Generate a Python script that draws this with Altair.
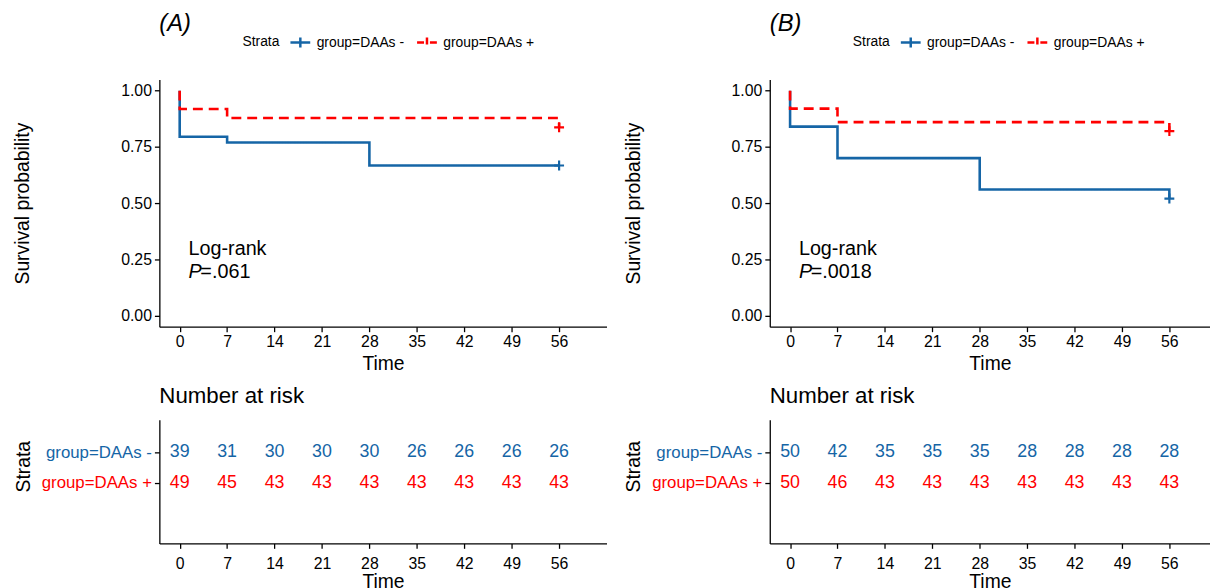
import altair as alt
import pandas as pd

FONT = "Liberation Sans"

groups = ["group=DAAs -", "group=DAAs +"]
colors = ["#1565A6", "#FF0000"]
tick_times = [0, 7, 14, 21, 28, 35, 42, 49, 56]

# Panel A: Kaplan-Meier steps (time, survival)
a_neg_t = [0, 0, 7, 28, 56]
a_neg_s = [1.0, 0.795, 0.769, 0.667, 0.667]
a_pos_t = [0, 0, 7, 56, 56]
a_pos_s = [1.0, 0.918, 0.878, 0.878, 0.837]
a_cens_t = [56, 56]
a_cens_s = [0.667, 0.837]
a_risk_neg = [39, 31, 30, 30, 30, 26, 26, 26, 26]
a_risk_pos = [49, 45, 43, 43, 43, 43, 43, 43, 43]
a_pval = "=.061"

# Panel B
b_neg_t = [0, 0, 7, 28, 56, 56]
b_neg_s = [1.0, 0.84, 0.70, 0.56, 0.56, 0.52]
b_pos_t = [0, 0, 7, 56, 56]
b_pos_s = [1.0, 0.92, 0.86, 0.86, 0.82]
b_cens_t = [56, 56]
b_cens_s = [0.52, 0.82]
b_risk_neg = [50, 42, 35, 35, 35, 28, 28, 28, 28]
b_risk_pos = [50, 46, 43, 43, 43, 43, 43, 43, 43]
b_pval = "=.0018"

CROSS = "M-1,0H1M0,-0.5V0.5"
PLUS = "M-1,0H1M0,-1V1"

color_scale = alt.Scale(domain=groups, range=colors)
dash_scale = alt.Scale(domain=groups, range=[[1, 0], [10, 6]])

axis_style = dict(
    domainColor="black", domainWidth=1.3, tickColor="black", tickWidth=1.3,
    tickSize=5, labelColor="black", labelFont=FONT, labelFontSize=16,
    titleFont=FONT, titleFontSize=19.5, titleColor="black",
    titleFontWeight="normal", grid=False,
)


def km_panel(label, neg_t, neg_s, pos_t, pos_s, cens_t, cens_s, pval, width, xmax):
    rows = []
    for i, (t, s) in enumerate(zip(neg_t, neg_s)):
        rows.append({"time": t, "surv": s, "group": groups[0], "i": i})
    for i, (t, s) in enumerate(zip(pos_t, pos_s)):
        rows.append({"time": t, "surv": s, "group": groups[1], "i": i})
    curves = pd.DataFrame(rows)
    cens = pd.DataFrame({"time": cens_t, "surv": cens_s, "group": groups})

    xs = alt.Scale(domain=[-3, xmax], nice=False, zero=False)
    ys = alt.Scale(domain=[-0.05, 1.05], nice=False, zero=False)
    xax = alt.Axis(values=tick_times, title="Time", labelPadding=2, titlePadding=5, **axis_style)
    yax = alt.Axis(values=[0, 0.25, 0.5, 0.75, 1.0], format=".2f", title="Survival probability",
                   labelPadding=3, titlePadding=89, **axis_style)
    legend = alt.Legend(
        orient="none", legendX=84, legendY=-49, direction="horizontal",
        title="Strata", titleOrient="left", titleFont=FONT, titleFontSize=14,
        titleFontWeight="normal", titleColor="black", titlePadding=9,
        labelFont=FONT, labelFontSize=14, labelColor="black", labelOffset=5,
        symbolType=CROSS, symbolSize=400, symbolStrokeWidth=2.5, columnPadding=7,
        symbolDashOffset=3,
    )

    def line_layer(g):
        return alt.Chart(curves).transform_filter(alt.datum.group == g).mark_line(
            interpolate="step-after", strokeWidth=2.6
        ).encode(
            x=alt.X("time:Q", scale=xs, axis=xax),
            y=alt.Y("surv:Q", scale=ys, axis=yax),
            color=alt.Color("group:N", scale=color_scale, legend=legend),
            strokeDash=alt.StrokeDash("group:N", scale=dash_scale, legend=legend),
            order=alt.Order("i:Q"),
        )

    points = alt.Chart(cens).mark_point(
        shape=PLUS, filled=False, size=100, strokeWidth=2.2, opacity=1
    ).encode(
        x=alt.X("time:Q", scale=xs),
        y=alt.Y("surv:Q", scale=ys),
        color=alt.Color("group:N", scale=color_scale, legend=legend),
    )

    txt_style = dict(font=FONT, fontSize=20, align="left", baseline="middle", color="black")
    logrank = alt.Chart().mark_text(text="Log-rank", **txt_style).encode(
        x=alt.datum(1.3), y=alt.datum(0.295))
    ptxt = alt.Chart().mark_text(text="P", fontStyle="italic", **txt_style).encode(
        x=alt.datum(1.3), y=alt.datum(0.195))
    pv = alt.Chart().mark_text(text=pval, dx=12, **txt_style).encode(
        x=alt.datum(1.3), y=alt.datum(0.195))

    return alt.layer(line_layer(groups[0]), line_layer(groups[1]), points, logrank, ptxt, pv).properties(
        width=width, height=250,
        title=alt.TitleParams(label, anchor="start", frame="group", font=FONT, fontSize=24,
                              fontStyle="italic", fontWeight="normal", color="black", offset=-5),
    )


def risk_panel(neg, pos, width, xmax):
    rows = []
    for t, n in zip(tick_times, neg):
        rows.append({"time": t, "row": 1, "n": n, "group": groups[0]})
    for t, n in zip(tick_times, pos):
        rows.append({"time": t, "row": 2, "n": n, "group": groups[1]})
    df = pd.DataFrame(rows)
    xs = alt.Scale(domain=[-3, xmax], nice=False, zero=False)
    ys = alt.Scale(domain=[-0.06, 3.97], nice=False, zero=False, reverse=True)
    label_expr = f"datum.value == 1 ? '{groups[0]}' : '{groups[1]}'"
    rs = dict(axis_style)
    rs["labelFontSize"] = 17
    yax = alt.Axis(values=[1, 2], labelExpr=label_expr, title="Strata", labelPadding=3,
                   titlePadding=8, titleY=47,
                   **{k: v for k, v in rs.items() if k != "labelColor"},
                   labelColor={"condition": {"test": "datum.value == 1", "value": colors[0]},
                               "value": colors[1]})
    xax = alt.Axis(values=tick_times, title="Time", labelPadding=7, titlePadding=2, **axis_style)
    return alt.Chart(df).mark_text(font=FONT, fontSize=18).encode(
        x=alt.X("time:Q", scale=xs, axis=xax),
        y=alt.Y("row:Q", scale=ys, axis=yax),
        text="n:Q",
        color=alt.Color("group:N", scale=color_scale, legend=None),
    ).properties(
        width=width, height=125,
        title=alt.TitleParams("Number at risk", anchor="start", frame="group", font=FONT,
                              fontSize=22.5, fontWeight="normal", color="black", offset=12),
    )


def column(label, neg_t, neg_s, pos_t, pos_s, cens_t, cens_s, pval, rneg, rpos, width, xmax):
    return alt.vconcat(
        km_panel(label, neg_t, neg_s, pos_t, pos_s, cens_t, cens_s, pval, width, xmax),
        risk_panel(rneg, rpos, width, xmax),
        spacing=12,
    ).resolve_scale(color="independent", strokeDash="independent").resolve_legend(
        color="independent", strokeDash="independent")


colA = column("(A)", a_neg_t, a_neg_s, a_pos_t, a_pos_s, a_cens_t, a_cens_s, a_pval,
              a_risk_neg, a_risk_pos, 452, 63)
colB = column("(B)", b_neg_t, b_neg_s, b_pos_t, b_pos_s, b_cens_t, b_cens_s, b_pval,
              b_risk_neg, b_risk_pos, 445, 62)

chart = alt.hconcat(colA, colB, spacing=16).resolve_scale(
    color="independent", strokeDash="independent"
).resolve_legend(color="independent", strokeDash="independent").properties(
    padding={"left": 4, "top": 1, "right": 0, "bottom": 0}
).configure(font=FONT).configure_view(strokeWidth=0, stroke=None)

chart.save("out.html", embed_options={"renderer": "svg", "actions": False})
